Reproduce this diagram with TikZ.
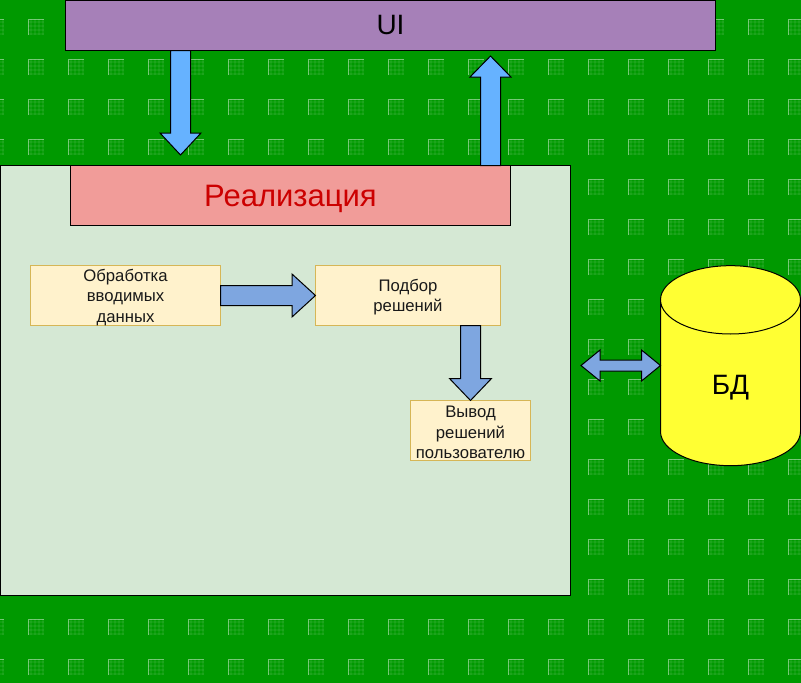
\documentclass[tikz,border=0pt]{standalone}
\usepackage{fontspec}
\setmainfont{Liberation Sans}
\usetikzlibrary{calc,shapes.geometric}

\definecolor{bggreen}{HTML}{009900}
\definecolor{uipurple}{HTML}{A680B8}
\definecolor{implred}{HTML}{F19C99}
\definecolor{panelgreen}{HTML}{D5E8D4}
\definecolor{stepfill}{HTML}{FFF2CC}
\definecolor{stepline}{HTML}{D6B656}
\definecolor{dbyellow}{HTML}{FFFF33}
\definecolor{flowblue}{HTML}{66B2FF}
\definecolor{innerblue}{HTML}{7EA6E0}

\tikzset{
	stepbox/.style={draw=stepline,fill=stepfill,align=center,inner sep=0pt,outer sep=0pt,text=black!90,
		font=\fontsize{16.7}{20.5}\selectfont},
	titlebox/.style={draw=black,inner sep=0pt,outer sep=0pt},
	arrowbody/.style={draw=black,line width=1pt,line join=miter}
}

\def\low#1#2{\raisebox{-#1pt}[\height][\depth]{#2}}

\def\tile#1#2{
	\foreach \t in {2,6,10,14} {
		\fill[white,opacity=0.06] (#1+\t,#2) rectangle +(2,16);
		\fill[white,opacity=0.06] (#1,#2+\t) rectangle +(16,2);
	}
	\draw[white,opacity=0.45] (#1+0.5,#2+16) -- (#1+0.5,#2+0.5) -- (#1+16,#2+0.5);
}

% from, to, half shaft, half head, head length
\def\blockarrow#1#2#3#4#5{
	\coordinate (neck) at ($(#2)!#5pt!(#1)$);
	\draw[arrowbody,fill=#3] ($(#1)!10pt!90:(#2)$) -- ($(neck)!10pt!90:(#2)$) -- ($(neck)!#4pt!90:(#2)$)
		-- (#2) -- ($(neck)!#4pt!-90:(#2)$) -- ($(neck)!10pt!-90:(#2)$) -- ($(#1)!10pt!-90:(#2)$) -- cycle;
}

\begin{document}
\begin{tikzpicture}[x=1pt,y=-1pt,line width=1pt]
	\useasboundingbox (0,0) rectangle (801,683);
	\fill[bggreen] (0,0) rectangle (801,683);
	\begin{scope}
		\clip (0,0) rectangle (801,683);
		\foreach \i in {-1,...,19} {
			\foreach \j in {0,...,16} {
				\pgfmathsetmacro{\tx}{28+40*\i}
				\pgfmathsetmacro{\ty}{19+40*\j}
				\tile{\tx}{\ty}
			}
		}
	\end{scope}

	\node[titlebox,fill=uipurple,minimum width=650pt,minimum height=50pt,font=\fontsize{28}{32}\selectfont] (ui) at (390.5,25.5) {UI};
	\node[titlebox,fill=panelgreen,minimum width=570pt,minimum height=430pt] (panel) at (285.5,380.5) {};
	\node[titlebox,fill=implred,text=red!80!black,minimum width=440pt,minimum height=60pt,font=\fontsize{31}{35}\selectfont] (impl) at (290.5,195.5) {\low{3}{Реализация}};

	\node[stepbox,minimum width=190pt,minimum height=60pt] (input) at (125.5,295.5) {\low{2}{Обработка}\\\low{2}{вводимых}\\\low{2}{данных}};
	\node[stepbox,minimum width=185pt,minimum height=60pt] (choose) at (408,295.5) {\low{1.5}{Подбор}\\\low{1.5}{решений}};
	\node[stepbox,minimum width=120pt,minimum height=60pt] (output) at (470.5,430.5) {\low{2}{Вывод}\\\low{2}{решений}\\\low{2}{пользователю}};

	\node[cylinder,shape border rotate=90,aspect=1.83,draw=black,fill=dbyellow,inner sep=0pt,outer sep=0pt,
		minimum width=140pt,minimum height=200pt,font=\fontsize{28}{32}\selectfont] (db) at (730.5,383) {\low{5}{БД}};

	\coordinate (uiout) at (180.5,50.5);
	\coordinate (uiin) at (180.5,155);
	\coordinate (implout) at (490.5,165.5);
	\coordinate (implin) at (490.5,56);
	\coordinate (dbleft) at (581,365.5);

	\blockarrow{uiout}{uiin}{flowblue}{20.5}{22}
	\blockarrow{implout}{implin}{flowblue}{20.5}{21}
	\blockarrow{input.east}{choose.west}{innerblue}{21.5}{23.5}
	\blockarrow{choose.south -| output.north}{output.north}{innerblue}{21}{22}

	% both ways
	\coordinate (leftneck) at (600,365.5);
	\coordinate (rightneck) at (641.5,365.5);
	\draw[arrowbody,fill=innerblue] (dbleft) -- ($(leftneck)+(0,-15.5)$) -- ($(leftneck)+(0,-5.5)$) -- ($(rightneck)+(0,-5.5)$)
		-- ($(rightneck)+(0,-15.5)$) -- (dbleft -| db.west) -- ($(rightneck)+(0,15.5)$) -- ($(rightneck)+(0,5.5)$)
		-- ($(leftneck)+(0,5.5)$) -- ($(leftneck)+(0,15.5)$) -- cycle;
\end{tikzpicture}
\end{document}
